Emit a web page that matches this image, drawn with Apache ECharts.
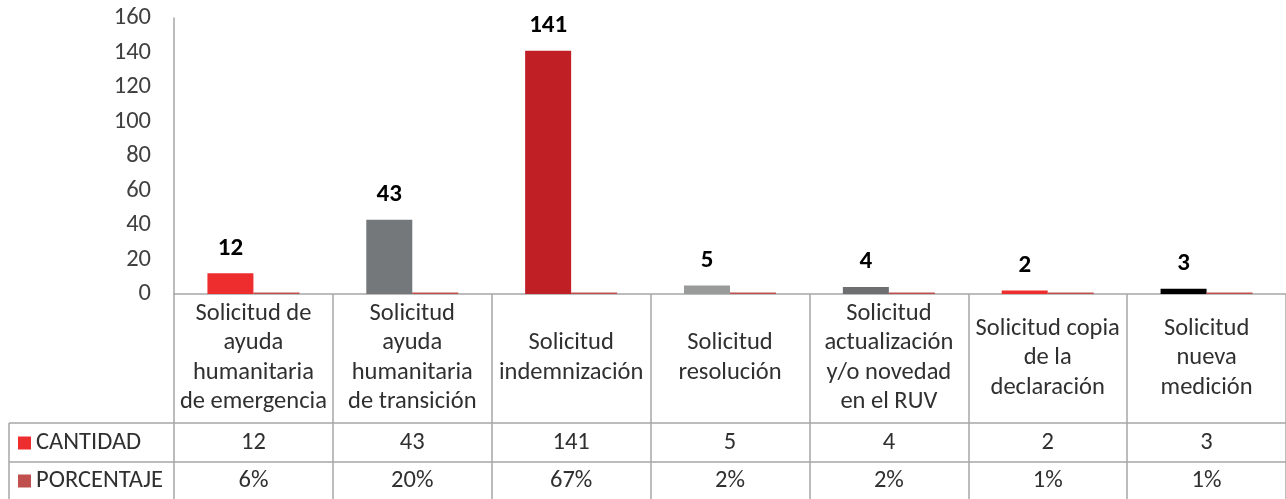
<!DOCTYPE html>
<html>
<head>
<meta charset="utf-8">
<script src="https://cdn.jsdelivr.net/npm/echarts@6/dist/echarts.min.js"></script>
<style>
  html, body { margin: 0; padding: 0; background: #fff; }
  #chart { width: 1286px; height: 499px; }
</style>
</head>
<body>
<div id="chart"></div>
<script>
/* ---------------- DATA ---------------- */
const categories = [
  "Solicitud de\nayuda\nhumanitaria\nde emergencia",
  "Solicitud\nayuda\nhumanitaria\nde transición",
  "Solicitud\nindemnización",
  "Solicitud\nresolución",
  "Solicitud\nactualización\ny/o novedad\nen el RUV",
  "Solicitud copia\nde la\ndeclaración",
  "Solicitud\nnueva\nmedición",
];
const cantidad = [12, 43, 141, 5, 4, 2, 3];
const porcentaje = [0.06, 0.20, 0.67, 0.02, 0.02, 0.01, 0.01];
const barColors = ["#ee2e2e", "#75787b", "#c01f25", "#999b9b", "#6d6f71", "#ee2e2e", "#000000"];
const yMin = 0, yMax = 160, yStep = 20;

/* ---------------- LAYOUT ---------------- */
const FONT = "Carlito, Lato, sans-serif";
const FS = 24.5;
const GRID_LEFT = 174, GRID_TOP = 18, GRID_H = 276, GRID_W = 1118;
const AXIS_Y = GRID_TOP + GRID_H;       // 294
const ROW1_Y = 423, ROW2_Y = 462, TABLE_LEFT = 9;
const LINE = "#a6a6a6";
const TEXT = "#303030";

const chart = echarts.init(document.getElementById("chart"), null, { renderer: "canvas" });

// extra bottom axes used only as table rows
function rowAxis(margin, fmt) {
  return {
    type: "category",
    data: categories,
    position: "bottom",
    axisLine: { show: false },
    axisTick: { show: false },
    axisLabel: {
      interval: 0, margin, verticalAlign: "middle",
      fontFamily: FONT, fontSize: FS, color: TEXT,
      formatter: (v, i) => fmt(i),
    },
  };
}

chart.setOption({
  animation: false,
  grid: { left: GRID_LEFT, top: GRID_TOP, width: GRID_W, height: GRID_H },
  legend: {
    orient: "vertical",
    left: 18, top: 430, padding: 0,
    itemWidth: 13, itemHeight: 13, itemGap: 12,
    icon: "rect",
    textStyle: { fontFamily: FONT, fontSize: FS, color: TEXT, lineHeight: 26 },
    data: ["CANTIDAD", "PORCENTAJE"],
  },
  xAxis: [
    {
      type: "category",
      data: categories,
      axisLine: { lineStyle: { color: LINE, width: 1.5 } },
      axisTick: { show: true, interval: 0, length: 205, lineStyle: { color: LINE, width: 1.5 } },
      axisLabel: {
        interval: 0, margin: 64, verticalAlign: "middle",
        fontFamily: FONT, fontSize: FS, lineHeight: 29.5, color: TEXT,
      },
    },
    rowAxis(ROW1_Y - AXIS_Y + 20, (i) => String(cantidad[i])),
    rowAxis(ROW2_Y - AXIS_Y + 19, (i) => Math.round(porcentaje[i] * 100) + "%"),
  ],
  yAxis: {
    type: "value",
    min: yMin, max: yMax, interval: yStep,
    axisLine: { show: true, lineStyle: { color: LINE, width: 1.5 } },
    axisTick: { show: false },
    splitLine: { show: false },
    axisLabel: { margin: 23, fontFamily: FONT, fontSize: FS, color: "#404040" },
  },
  series: [
    {
      name: "CANTIDAD",
      type: "bar",
      barWidth: 46,
      barGap: "0%",
      itemStyle: { color: "#ee2e2e" },
      data: cantidad.map((v, i) => ({ value: v, itemStyle: { color: barColors[i] } })),
      label: {
        show: true, position: "top", distance: 13,
        fontFamily: FONT, fontSize: 25, fontWeight: "bold", color: "#000", lineHeight: 24,
      },
    },
    {
      name: "PORCENTAJE",
      type: "bar",
      barWidth: 46,
      barMinHeight: 1.5,
      itemStyle: { color: "#c0504d" },
      data: porcentaje,
    },
  ],
  graphic: [
    { type: "line", shape: { x1: TABLE_LEFT, y1: ROW1_Y, x2: 1286, y2: ROW1_Y }, style: { stroke: LINE, lineWidth: 1.5 } },
    { type: "line", shape: { x1: TABLE_LEFT, y1: ROW2_Y, x2: 1286, y2: ROW2_Y }, style: { stroke: LINE, lineWidth: 1.5 } },
    { type: "line", shape: { x1: TABLE_LEFT, y1: ROW1_Y, x2: TABLE_LEFT, y2: 499 }, style: { stroke: LINE, lineWidth: 1.5 } },
  ],
});
</script>
</body>
</html>
